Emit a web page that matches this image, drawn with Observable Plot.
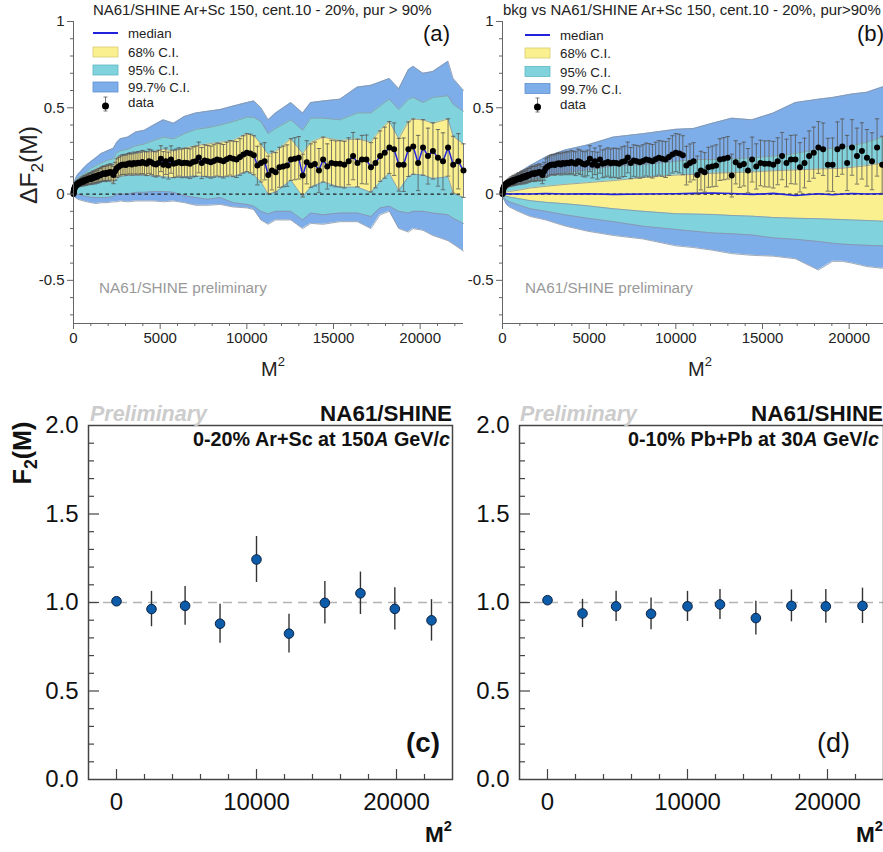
<!DOCTYPE html>
<html><head><meta charset="utf-8">
<script src="https://cdn.jsdelivr.net/npm/d3@7"></script>
<script src="https://cdn.jsdelivr.net/npm/@observablehq/plot@0.6"></script>
<style>
html,body{margin:0;padding:0;background:#fff;overflow:hidden;}
#root{position:relative;width:883px;height:852px;overflow:hidden;font-family:"Liberation Sans",Arial,sans-serif;}
.panel{position:absolute;}
</style></head><body><div id="root"></div>
<script>
// ---------------- DATA ----------------
// bin index M (x axis is M^2)
const binM = d3.range(1, 151);
// Delta F2(M) of NA61/SHINE Ar+Sc 150, cent. 10-20%
const deltaF2 = [
0,0.004,0.01,0.016,0.022,0.026,0.03,0.036,0.04,0.045,
0.048,0.05,0.056,0.052,0.058,0.062,0.06,0.066,0.064,0.07,
0.068,0.074,0.076,0.072,0.08,0.082,0.078,0.086,0.084,0.09,
0.092,0.088,0.096,0.1,0.094,0.104,0.1,0.11,0.108,0.114,
0.118,0.12,0.116,0.124,0.122,0.128,0.124,0.11,0.132,0.15,
0.158,0.165,0.17,0.172,0.168,0.175,0.178,0.172,0.18,0.176,
0.182,0.178,0.186,0.18,0.176,0.19,0.184,0.176,0.172,0.18,
0.205,0.17,0.19,0.165,0.2,0.175,0.18,0.186,0.178,0.182,
0.18,0.176,0.186,0.19,0.212,0.18,0.194,0.19,0.185,0.192,
0.2,0.196,0.19,0.202,0.21,0.205,0.2,0.215,0.23,0.24,
0.235,0.225,0.165,0.18,0.19,0.11,0.136,0.126,0.155,0.16,
0.165,0.2,0.205,0.21,0.107,0.184,0.165,0.174,0.136,0.2,
0.16,0.18,0.175,0.175,0.17,0.19,0.22,0.18,0.2,0.2,
0.155,0.18,0.22,0.24,0.27,0.26,0.17,0.17,0.26,0.275,
0.18,0.27,0.22,0.25,0.21,0.19,0.27,0.17,0.19,0.136];
const deltaF2Err = [
0.002,0.003,0.004,0.005,0.006,0.007,0.008,0.009,0.01,0.011,
0.012,0.013,0.014,0.015,0.016,0.017,0.018,0.019,0.02,0.021,
0.022,0.023,0.024,0.025,0.026,0.027,0.028,0.029,0.03,0.031,
0.032,0.033,0.034,0.035,0.036,0.037,0.038,0.039,0.04,0.041,
0.042,0.043,0.044,0.045,0.046,0.047,0.048,0.05,0.052,0.054,
0.055,0.056,0.057,0.058,0.059,0.06,0.061,0.062,0.063,0.064,
0.065,0.066,0.067,0.068,0.069,0.07,0.071,0.072,0.073,0.074,
0.075,0.076,0.077,0.078,0.079,0.08,0.081,0.082,0.083,0.084,
0.085,0.086,0.087,0.088,0.089,0.09,0.091,0.092,0.093,0.094,
0.095,0.096,0.097,0.098,0.1,0.102,0.104,0.106,0.108,0.11,
0.112,0.113,0.112,0.11,0.108,0.11,0.112,0.114,0.116,0.118,
0.12,0.121,0.122,0.123,0.124,0.125,0.126,0.127,0.128,0.13,
0.131,0.132,0.133,0.134,0.135,0.136,0.137,0.138,0.14,0.142,
0.143,0.144,0.146,0.148,0.15,0.152,0.153,0.155,0.158,0.16,
0.16,0.161,0.162,0.163,0.164,0.165,0.166,0.165,0.16,0.155];

// (a) confidence bands of the data, sampled at bins
const bandAM = [1,3,5,8,10,13,16,20,24,28,32,36,40,44,48,50,52,56,60,64,68,72,76,80,84,88,92,96,100,102,104,106,108,112,115,117,120,124,128,131,133,135,137,139,140,142,144,147,148,150];
const hi99A = [0.006,0.025,0.045,0.07,0.085,0.1,0.115,0.13,0.15,0.17,0.19,0.21,0.235,0.25,0.265,0.3,0.32,0.33,0.36,0.37,0.4,0.43,0.41,0.45,0.47,0.48,0.49,0.51,0.53,0.54,0.5,0.43,0.47,0.53,0.47,0.53,0.54,0.55,0.62,0.63,0.65,0.67,0.61,0.72,0.74,0.7,0.71,0.77,0.67,0.6];
const hi95A = [0.004,0.018,0.035,0.055,0.068,0.08,0.09,0.105,0.115,0.13,0.15,0.165,0.18,0.195,0.205,0.24,0.25,0.26,0.28,0.29,0.31,0.33,0.32,0.35,0.375,0.385,0.4,0.42,0.445,0.445,0.42,0.35,0.38,0.43,0.37,0.44,0.44,0.43,0.47,0.47,0.51,0.55,0.49,0.55,0.56,0.53,0.56,0.57,0.52,0.48];
const hi68A = [0.002,0.014,0.028,0.045,0.056,0.07,0.079,0.091,0.097,0.115,0.121,0.141,0.155,0.169,0.165,0.21,0.218,0.228,0.235,0.245,0.245,0.26,0.25,0.265,0.28,0.29,0.3,0.31,0.35,0.34,0.29,0.23,0.245,0.32,0.235,0.3,0.33,0.31,0.32,0.3,0.37,0.42,0.32,0.42,0.435,0.43,0.41,0.435,0.335,0.29];
const lo68A = [-0.002,0.006,0.016,0.027,0.034,0.042,0.045,0.049,0.047,0.057,0.055,0.067,0.073,0.079,0.065,0.088,0.1,0.108,0.108,0.11,0.105,0.1,0.095,0.1,0.105,0.1,0.1,0.1,0.13,0.11,0.07,0.0,0.01,0.08,-0.015,0.04,0.07,0.04,0.04,0.01,0.07,0.12,0.02,0.1,0.115,0.11,0.09,0.1,0.005,-0.02];
const lo95A = [-0.004,-0.002,0.002,0.005,0.005,0.005,0.0,-0.005,-0.01,-0.015,-0.018,-0.02,-0.02,-0.02,-0.015,0,0,0,0.01,0.01,0.015,0.015,0.01,-0.01,-0.02,-0.03,-0.02,-0.05,-0.06,-0.07,-0.1,-0.115,-0.1,-0.1,-0.15,-0.11,-0.12,-0.11,-0.11,-0.13,-0.08,-0.07,-0.1,-0.11,-0.1,-0.1,-0.11,-0.12,-0.14,-0.17];
const lo99A = [-0.006,-0.008,-0.01,-0.015,-0.02,-0.025,-0.03,-0.035,-0.04,-0.045,-0.05,-0.055,-0.05,-0.05,-0.045,-0.045,-0.04,-0.045,-0.04,-0.04,-0.04,-0.045,-0.04,-0.05,-0.065,-0.065,-0.06,-0.075,-0.08,-0.09,-0.15,-0.175,-0.15,-0.15,-0.2,-0.17,-0.175,-0.16,-0.16,-0.2,-0.12,-0.1,-0.2,-0.22,-0.2,-0.21,-0.24,-0.27,-0.29,-0.33];

// (b) background (mixed events) bands and median
const bandBM = [0,5,10,15,20,30,40,50,60,70,80,90,100,105,110,115,120,125,130,135,138,140,142,145,148,150];
const hi99B = [0,0.02,0.04,0.065,0.08,0.12,0.165,0.215,0.255,0.285,0.33,0.35,0.375,0.38,0.41,0.44,0.43,0.47,0.53,0.55,0.56,0.57,0.58,0.59,0.62,0.63];
const hi95B = [0,0.01,0.02,0.03,0.04,0.06,0.083,0.1,0.124,0.14,0.163,0.17,0.19,0.2,0.2,0.205,0.21,0.22,0.235,0.26,0.265,0.27,0.28,0.3,0.33,0.35];
const hi68B = [0,0.005,0.008,0.012,0.015,0.022,0.035,0.045,0.056,0.066,0.078,0.095,0.11,0.114,0.12,0.125,0.128,0.135,0.14,0.145,0.148,0.15,0.155,0.165,0.18,0.19];
const lo68B = [0,-0.005,-0.008,-0.012,-0.017,-0.026,-0.038,-0.048,-0.056,-0.068,-0.085,-0.1,-0.114,-0.116,-0.118,-0.124,-0.128,-0.136,-0.14,-0.143,-0.146,-0.148,-0.15,-0.153,-0.157,-0.16];
const lo95B = [0,-0.01,-0.02,-0.035,-0.045,-0.062,-0.085,-0.1,-0.12,-0.14,-0.16,-0.186,-0.205,-0.215,-0.225,-0.23,-0.237,-0.254,-0.262,-0.275,-0.285,-0.29,-0.293,-0.297,-0.3,-0.305];
const lo99B = [0,-0.02,-0.035,-0.06,-0.075,-0.1,-0.13,-0.15,-0.185,-0.215,-0.24,-0.26,-0.3,-0.31,-0.325,-0.345,-0.355,-0.36,-0.375,-0.44,-0.39,-0.39,-0.4,-0.42,-0.43,-0.42];
const medianB = [0,0,0,0.001,0,0.002,0,0.003,0,0.002,-0.002,0,0.002,0.004,0.006,0.003,-0.002,0.004,-0.008,0.002,-0.004,0,0.003,0,0.002,0];

// (c), (d) F2(M)
const f2M = [1,50,70,86,100,111,122,132,141,150];
const f2ArSc = [1.007,0.963,0.981,0.88,1.243,0.824,0.998,1.052,0.964,0.899];
const f2ArScErr = [0.01,0.10,0.11,0.11,0.13,0.11,0.12,0.12,0.12,0.117];
const f2PbPb = [1.013,0.938,0.978,0.936,0.978,0.989,0.912,0.981,0.978,0.981];
const f2PbPbErr = [0.01,0.08,0.085,0.09,0.085,0.085,0.095,0.09,0.095,0.1];

// tick values
const xTicksTop = [0,5000,10000,15000,20000];
const xMinorTop = [1000,2000,3000,4000,6000,7000,8000,9000,11000,12000,13000,14000,16000,17000,18000,19000,21000,22000];
const yTicksTop = [-0.5,0,0.5,1];
const yMinorTop = [-0.7,-0.6,-0.4,-0.3,-0.2,-0.1,0.1,0.2,0.3,0.4,0.6,0.7,0.8,0.9];
const xTicksBot = [0,10000,20000];
const xMinorBot = [2000,4000,6000,8000,12000,14000,16000,18000,22000];
const yTicksBot = [0,0.5,1,1.5,2];
const yMinorBot = [0.1,0.2,0.3,0.4,0.6,0.7,0.8,0.9,1.1,1.2,1.3,1.4,1.6,1.7,1.8,1.9];

// ---------------- STYLE ----------------
const FONT = "'Liberation Sans', Arial, sans-serif";
const C99 = "#7eaeea", C95 = "#80d3dd", C68 = "#faf08f", EDGE = "#8894a4", MED = "#2222dd";
const root = d3.select("#root");

function place(svg, left, top) {
  const div = root.append("div").attr("class", "panel").style("left", left + "px").style("top", top + "px");
  div.node().appendChild(svg);
}
const cap = {draw(ctx, size) { const w = Math.sqrt(size / Math.PI); ctx.moveTo(-w, 0); ctx.lineTo(w, 0); }};

function deltaPanel(cfg) {
  const pts = binM.map((m, i) => ({x: m * m, y: deltaF2[i], e: deltaF2Err[i]}));
  const band = cfg.bandM.map((m, i) => ({x: m * m, h99: cfg.hi99[i], h95: cfg.hi95[i], h68: cfg.hi68[i],
    l68: cfg.lo68[i], l95: cfg.lo95[i], l99: cfg.lo99[i], med: cfg.median ? cfg.median[i] : 0}));
  const marks = [
    Plot.areaY(band, {x: "x", y1: "l99", y2: "h99", fill: C99}),
    Plot.areaY(band, {x: "x", y1: "l95", y2: "h95", fill: C95}),
    Plot.areaY(band, {x: "x", y1: "l68", y2: "h68", fill: C68}),
    ...["h99", "h95", "h68", "l68", "l95", "l99"].map(k => Plot.line(band, {x: "x", y: k, stroke: EDGE, strokeWidth: 0.8})),
    Plot.ruleY([0], {stroke: "#222", strokeDasharray: "3.5,3", strokeWidth: 1.2}),
    cfg.median ? Plot.line(band, {x: "x", y: "med", stroke: MED, strokeWidth: 1.6}) : null,
    Plot.ruleX(pts, {x: "x", y1: d => d.y - d.e, y2: d => d.y + d.e, stroke: "#555", strokeWidth: 0.8}),
    Plot.dot(pts, {x: "x", y: d => d.y + d.e, symbol: cap, r: 2.2, fill: "none", stroke: "#555", strokeWidth: 0.8}),
    Plot.dot(pts, {x: "x", y: d => d.y - d.e, symbol: cap, r: 2.2, fill: "none", stroke: "#555", strokeWidth: 0.8}),
    cfg.median ? null : Plot.line(pts, {x: "x", y: "y", stroke: MED, strokeWidth: 1.5}),
    Plot.dot(pts, {x: "x", y: "y", r: 3, fill: "#000", stroke: "none"}),
    Plot.ruleX([0], {stroke: "#666", strokeWidth: 1}),
    Plot.ruleY([-0.75], {stroke: "#666", strokeWidth: 1}),
    Plot.axisY({ticks: yTicksTop, tickSize: 6, tickPadding: 3, fontSize: 15, tickFormat: d => String(d), stroke: "#666"}),
    Plot.axisY({ticks: yMinorTop, tickSize: 3, tickFormat: () => "", stroke: "#666"}),
    Plot.axisX({ticks: xTicksTop, tickSize: 6, tickPadding: 3, fontSize: 15, tickFormat: d => String(d), stroke: "#666"}),
    Plot.axisX({ticks: xMinorTop, tickSize: 3, tickFormat: () => "", stroke: "#666"})
  ].filter(Boolean);
  return Plot.plot({
    width: cfg.width, height: 360, marginLeft: cfg.ml, marginRight: cfg.mr, marginTop: 21, marginBottom: 37,
    x: {domain: [0, 22500], label: null},
    y: {domain: [-0.75, 1], label: null},
    style: {background: "none", maxWidth: "none", overflow: "visible", fontFamily: FONT, color: "#222"},
    marks
  });
}

function f2Panel(cfg) {
  const pts = f2M.map((m, i) => ({x: m * m, y: cfg.vals[i], e: cfg.errs[i]}));
  const fw = cfg.width - cfg.ml - cfg.mr, fh = 354;
  return Plot.plot({
    width: cfg.width, height: 472, marginLeft: cfg.ml, marginRight: cfg.mr, marginTop: 45, marginBottom: 73,
    x: {domain: [-2000, 24000], label: null},
    y: {domain: [0, 2], label: null},
    style: {background: "none", maxWidth: "none", overflow: "visible", fontFamily: FONT, color: "#111"},
    marks: [
      Plot.ruleY([1], {stroke: "#b4b4b4", strokeWidth: 1.3, strokeDasharray: "9,6"}),
      Plot.ruleX(pts, {x: "x", y1: d => d.y - d.e, y2: d => d.y + d.e, stroke: "#333", strokeWidth: 1.4}),
      Plot.dot(pts, {x: "x", y: "y", r: 4.8, fill: "#0d5ca9", stroke: "#0b2140", strokeWidth: 1}),
      Plot.ruleX(xMinorBot, {x: d => d, insetTop: fh - 5, stroke: "#444", strokeWidth: 1.2}),
      Plot.ruleX(xTicksBot, {x: d => d, insetTop: fh - 10, stroke: "#444", strokeWidth: 1.2}),
      Plot.ruleY(yMinorBot, {y: d => d, insetRight: fw - 6, stroke: "#444", strokeWidth: 1.2}),
      Plot.ruleY([0.5, 1, 1.5], {y: d => d, insetRight: fw - 11, stroke: "#444", strokeWidth: 1.2}),
      Plot.frame({stroke: "#444", strokeWidth: 1.5}),
      Plot.axisX({ticks: xTicksBot, tickSize: 0, tickPadding: 13, fontSize: 24, tickFormat: d => String(d)}),
      Plot.axisY({ticks: yTicksBot, tickSize: 0, tickPadding: 10, fontSize: 24, tickFormat: d => d.toFixed(1)})
    ]
  });
}

place(deltaPanel({width: 470, ml: 73, mr: 7, bandM: bandAM, hi99: hi99A, hi95: hi95A, hi68: hi68A, lo68: lo68A, lo95: lo95A, lo99: lo99A, median: null}), 0, 0);
place(deltaPanel({width: 460, ml: 62, mr: 8, bandM: bandBM, hi99: hi99B, hi95: hi95B, hi68: hi68B, lo68: lo68B, lo95: lo95B, lo99: lo99B, median: medianB}), 440, 0);
place(f2Panel({width: 470, ml: 88, mr: 18, vals: f2ArSc, errs: f2ArScErr}), 0, 380);
place(f2Panel({width: 460, ml: 79, mr: 17, vals: f2PbPb, errs: f2PbPbErr}), 440, 380);

// ---------------- TEXT OVERLAY ----------------
const ov = root.append("svg").attr("width", 883).attr("height", 852)
  .style("position", "absolute").style("left", "0px").style("top", "0px").style("pointer-events", "none")
  .attr("font-family", FONT);

function txt(x, y, parts, o = {}) {
  const t = ov.append("text").attr("x", x).attr("y", y).attr("font-size", o.size || 15)
    .attr("fill", o.fill || "#222").attr("text-anchor", o.anchor || "start");
  if (o.weight) t.attr("font-weight", o.weight);
  if (o.style) t.attr("font-style", o.style);
  if (o.rotate) t.attr("transform", `rotate(${o.rotate},${x},${y})`);
  for (const p of [].concat(parts)) {
    const s = typeof p === "string" ? {t: p} : p;
    const ts = t.append("tspan").text(s.t);
    if (s.sub) ts.attr("font-size", "70%").attr("dy", "0.35em");
    if (s.sup) ts.attr("font-size", "65%").attr("dy", "-0.75em");
    if (s.back) ts.attr("dy", s.back);
    if (s.it) ts.attr("font-style", "italic");
  }
  if (o.fitW) {
    const L = t.node().getComputedTextLength();
    if (L > 0) t.attr("font-size", (o.size || 15) * o.fitW / L);
  }
  return t;
}

// panel (a)/(b) titles
const tA = txt(93, 15, "NA61/SHINE Ar+Sc 150, cent.10 - 20%, pur > 90%", {size: 15, fitW: 339});
const titleSize = +tA.attr("font-size");
txt(503, 15, "bkg vs NA61/SHINE Ar+Sc 150, cent.10 - 20%, pur>90%", {size: titleSize});
txt(423, 41, "(a)", {size: 21, fitW: 27, fill: "#111"});
txt(857, 41, "(b)", {size: 21, fitW: 27, fill: "#111"});
const pA = txt(99, 293, "NA61/SHINE preliminary", {size: 14, fill: "#999", fitW: 168});
txt(525, 293, "NA61/SHINE preliminary", {size: +pA.attr("font-size"), fill: "#999"});
txt(273, 376, ["M", {t: "2", sup: true}], {size: 20, anchor: "middle"});
txt(700, 376, ["M", {t: "2", sup: true}], {size: 20, anchor: "middle"});
txt(37, 165, ["ΔF", {t: "2", sub: true}, {t: "(M)", back: "-0.25em"}], {size: 20, anchor: "middle", rotate: -90, fitW: 78});

// legends
function legend(x0, rows, dataDotY) {
  const g = ov.append("g");
  g.append("line").attr("x1", x0).attr("x2", x0 + 25).attr("y1", rows[0]).attr("y2", rows[0]).attr("stroke", MED).attr("stroke-width", 2);
  [[C68, "#d8cc70"], [C95, "#5fb7c2"], [C99, "#5f8fd0"]].forEach(([f, s], i) => {
    g.append("rect").attr("x", x0).attr("y", rows[i + 1] - 5).attr("width", 25).attr("height", 10).attr("fill", f).attr("stroke", s).attr("stroke-width", 0.8);
  });
  const cx = x0 + 12.5;
  g.append("line").attr("x1", cx).attr("x2", cx).attr("y1", dataDotY - 9).attr("y2", dataDotY + 5).attr("stroke", "#555").attr("stroke-width", 0.8);
  g.append("line").attr("x1", cx - 2).attr("x2", cx + 2).attr("y1", dataDotY - 9).attr("y2", dataDotY - 9).attr("stroke", "#555").attr("stroke-width", 0.8);
  g.append("line").attr("x1", cx - 2).attr("x2", cx + 2).attr("y1", dataDotY + 5).attr("y2", dataDotY + 5).attr("stroke", "#555").attr("stroke-width", 0.8);
  g.append("circle").attr("cx", cx).attr("cy", dataDotY).attr("r", 3.5).attr("fill", "#000");
  const labels = ["median", "68% C.I.", "95% C.I.", "99.7% C.I.", "data"];
  const t0 = txt(x0 + 35, rows[3] + 5, labels[3], {size: 13, fitW: 62});
  const ls = +t0.attr("font-size");
  labels.forEach((l, i) => { if (i !== 3) txt(x0 + 35, rows[i] + 5, l, {size: ls}); });
}
legend(93, [33, 52, 70, 87, 102], 106);
legend(525, [35, 53, 71.5, 88.5, 104], 107);

// panel (c)
const pr = txt(90, 421, "Preliminary", {size: 22, weight: "bold", style: "italic", fill: "#cccccc", fitW: 117});
const ns = txt(452, 421, "NA61/SHINE", {size: 22, weight: "bold", fill: "#111", anchor: "end", fitW: 132});
const sc = txt(450, 446, ["0-20% Ar+Sc at 150", {t: "A", it: true}, " GeV/", {t: "c", it: true}], {size: 18, weight: "bold", fill: "#111", anchor: "end", fitW: 257});
txt(440, 752, "(c)", {size: 22, weight: "bold", fill: "#111", anchor: "end", fitW: 34});
const mc = txt(452, 842, ["M", {t: "2", sup: true}], {size: 24, weight: "bold", fill: "#111", anchor: "end", fitW: 27});
txt(31, 453, ["F", {t: "2", sub: true}, {t: "(M)", back: "-0.25em"}], {size: 22, weight: "bold", fill: "#111", anchor: "middle", rotate: -90, fitW: 63});

// panel (d)
txt(520, 421, "Preliminary", {size: +pr.attr("font-size"), weight: "bold", style: "italic", fill: "#cccccc"});
txt(883, 421, "NA61/SHINE", {size: +ns.attr("font-size"), weight: "bold", fill: "#111", anchor: "end"});
txt(879, 446, ["0-10% Pb+Pb at 30", {t: "A", it: true}, " GeV/", {t: "c", it: true}], {size: +sc.attr("font-size"), weight: "bold", fill: "#111", anchor: "end"});
txt(850, 752, "(d)", {size: 22, fill: "#111", anchor: "end", fitW: 33});
txt(883, 842, ["M", {t: "2", sup: true}], {size: +mc.attr("font-size"), weight: "bold", fill: "#111", anchor: "end"});
</script></body></html>
